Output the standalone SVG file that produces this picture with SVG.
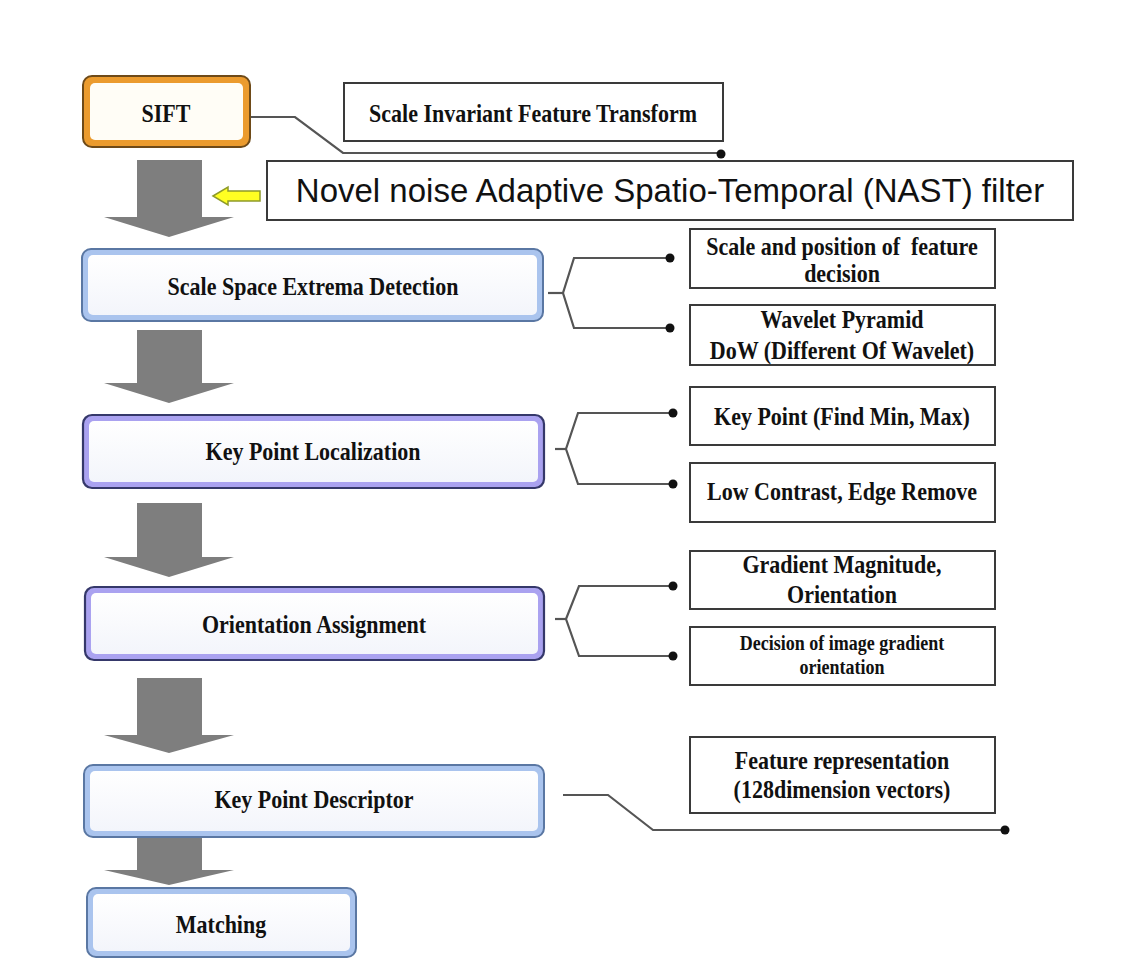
<svg xmlns="http://www.w3.org/2000/svg" width="1140" height="958" viewBox="0 0 1140 958">
<defs>
<style>
.lbl{font-family:"Liberation Serif","Times New Roman",serif;font-weight:bold;font-size:25px;fill:#111;text-anchor:middle;white-space:pre}
.sm{font-size:20px}
.nast{font-family:"Liberation Sans",Arial,sans-serif;font-size:33px;fill:#111;text-anchor:middle}
.box{fill:#fff;stroke:#3a3a3a;stroke-width:2}
.wire{fill:none;stroke:#555;stroke-width:2.2}
.dot{fill:#111}
.flow{fill:#7e7e7e}
.inner{fill:url(#ig)}
.blue{fill:#aac4ee;stroke:#5a77a3;stroke-width:2}
.lav{fill:#aaa2f0;stroke:#35386a;stroke-width:2.2}
</style>
<linearGradient id="ig" x1="0" y1="0" x2="0" y2="1">
<stop offset="0" stop-color="#ffffff"/>
<stop offset="1" stop-color="#f3f5fb"/>
</linearGradient>
</defs>
<rect width="1140" height="958" fill="#ffffff"/>
<g id="connectors">
<polygon class="flow" points="137,160 202,160 202,217 234,217 169,237 104,217 137,217"/>
<polygon class="flow" points="137,330 202,330 202,383 234,383 169,403 104,383 137,383"/>
<polygon class="flow" points="137,503 202,503 202,557 234,557 169,577 104,557 137,557"/>
<polygon class="flow" points="137,678 202,678 202,735 234,735 169,753 104,735 137,735"/>
<polygon class="flow" points="137,830 202,830 202,870 234,870 169,885 104,870 137,870"/>
<polygon points="213,196 228,187 228,191 260,191 260,201 228,201 228,205" fill="#ffff22" stroke="#8f9b2a" stroke-width="1.5"/>
<polyline class="wire" points="250,117 295,117 343,153 720,153"/>
<circle class="dot" cx="721" cy="154" r="4.5"/>
<polyline class="wire" points="548,293 563,293"/>
<polyline class="wire" points="670,258 574,258 563,293 574,328 670,328"/>
<circle class="dot" cx="670" cy="258" r="4.5"/>
<circle class="dot" cx="670" cy="328" r="4.5"/>
<polyline class="wire" points="555,449 566,449"/>
<polyline class="wire" points="673,413 578,413 566,449 578,484 673,484"/>
<circle class="dot" cx="673" cy="413" r="4.5"/>
<circle class="dot" cx="673" cy="484" r="4.5"/>
<polyline class="wire" points="555,619 566,619"/>
<polyline class="wire" points="673,586 579,586 566,619 579,656 673,656"/>
<circle class="dot" cx="673" cy="586" r="4.5"/>
<circle class="dot" cx="673" cy="656" r="4.5"/>
<polyline class="wire" points="563,795 608,795 653,830 1004,830"/>
<circle class="dot" cx="1005" cy="830" r="4.5"/>
</g>
<g id="node-sift">
<rect x="83" y="76" width="167" height="71" rx="9" fill="#eb9b2e" stroke="#6e4a18" stroke-width="2"/>
<rect x="90" y="83" width="153" height="57" rx="5" fill="#fffdf6"/>
<text class="lbl" transform="translate(166,122) scale(0.88,1)">SIFT</text>
</g>
<g id="node-sift-desc">
<rect class="box" x="344" y="83" width="379" height="58"/>
<text class="lbl" transform="translate(533,122) scale(0.88,1)">Scale Invariant Feature Transform</text>
</g>
<g id="node-nast">
<rect class="box" x="267" y="161" width="806" height="59"/>
<text class="nast" x="670" y="202">Novel noise Adaptive Spatio-Temporal (NAST) filter</text>
</g>
<g id="node-sse">
<rect class="blue" x="82" y="249" width="461" height="72" rx="9"/>
<rect class="inner" x="88" y="255" width="449" height="60" rx="5"/>
<text class="lbl" transform="translate(313,295) scale(0.88,1)">Scale Space Extrema Detection</text>
</g>
<g id="node-kpl">
<rect class="lav" x="83" y="415" width="461" height="73" rx="9"/>
<rect class="inner" x="89" y="421" width="449" height="61" rx="5"/>
<text class="lbl" transform="translate(313,460) scale(0.88,1)">Key Point Localization</text>
</g>
<g id="node-oa">
<rect class="lav" x="85" y="587" width="459" height="73" rx="9"/>
<rect class="inner" x="91" y="593" width="447" height="61" rx="5"/>
<text class="lbl" transform="translate(314,633) scale(0.88,1)">Orientation Assignment</text>
</g>
<g id="node-kpd">
<rect class="blue" x="84" y="765" width="460" height="72" rx="9"/>
<rect class="inner" x="90" y="771" width="448" height="60" rx="5"/>
<text class="lbl" transform="translate(314,808) scale(0.88,1)">Key Point Descriptor</text>
</g>
<g id="node-match">
<rect class="blue" x="87" y="888" width="269" height="69" rx="9"/>
<rect class="inner" x="93" y="894" width="257" height="57" rx="5"/>
<text class="lbl" transform="translate(221,933) scale(0.88,1)">Matching</text>
</g>
<g id="node-d1">
<rect class="box" x="690" y="229" width="305" height="59"/>
<text class="lbl" transform="translate(842,255) scale(0.88,1)">Scale and position of  feature</text>
<text class="lbl" transform="translate(842,282) scale(0.88,1)">decision</text>
</g>
<g id="node-d2">
<rect class="box" x="690" y="305" width="305" height="60"/>
<text class="lbl" transform="translate(842,328) scale(0.88,1)">Wavelet Pyramid</text>
<text class="lbl" transform="translate(842,359) scale(0.88,1)">DoW (Different Of Wavelet)</text>
</g>
<g id="node-d3">
<rect class="box" x="690" y="387" width="305" height="58"/>
<text class="lbl" transform="translate(842,425) scale(0.88,1)">Key Point (Find Min, Max)</text>
</g>
<g id="node-d4">
<rect class="box" x="690" y="463" width="305" height="59"/>
<text class="lbl" transform="translate(842,500) scale(0.88,1)">Low Contrast, Edge Remove</text>
</g>
<g id="node-d5">
<rect class="box" x="690" y="551" width="305" height="58"/>
<text class="lbl" transform="translate(842,573) scale(0.88,1)">Gradient Magnitude,</text>
<text class="lbl" transform="translate(842,603) scale(0.88,1)">Orientation</text>
</g>
<g id="node-d6">
<rect class="box" x="690" y="627" width="305" height="58"/>
<text class="lbl sm" transform="translate(842,650) scale(0.9,1)">Decision of image gradient</text>
<text class="lbl sm" transform="translate(842,674) scale(0.9,1)">orientation</text>
</g>
<g id="node-d7">
<rect class="box" x="690" y="737" width="305" height="76"/>
<text class="lbl" transform="translate(842,769) scale(0.88,1)">Feature representation</text>
<text class="lbl" transform="translate(842,798) scale(0.88,1)">(128dimension vectors)</text>
</g>
</svg>
